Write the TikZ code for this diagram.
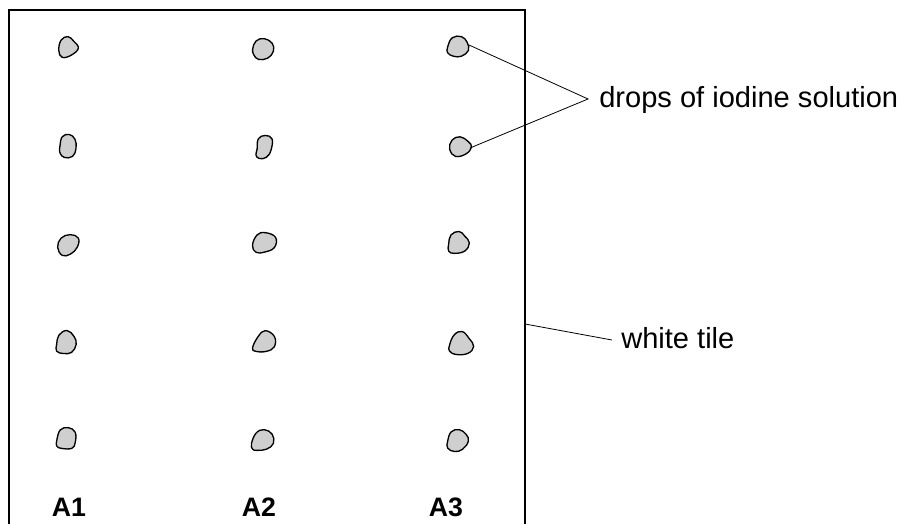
\documentclass[tikz,border=0pt]{standalone}
\usepackage{fontspec}
\setmainfont{Liberation Sans}
\begin{document}
\begin{tikzpicture}[x=0.75pt,y=-0.75pt,
  tile/.style={line width=1.5pt,line cap=rect},
  drop/.style={draw=black,fill=black!19,line width=1pt,scale=1.15},
  leader/.style={line width=0.6pt},
  lab/.style={font=\fontsize{21.8}{26}\selectfont,inner sep=0pt,anchor=base west},
  colab/.style={font=\fontsize{20}{24}\selectfont\bfseries,inner sep=0pt,anchor=base}]
\useasboundingbox (0,0) rectangle (902,524);
% tile
\draw[tile] (9,530) -- (9,10) -- (525,10) -- (525,530);
% drops: row 1
\draw[shift={(68,47)},drop] plot[smooth cycle,tension=0.7] coordinates {(-8,3) (-6,-6) (0,-9) (5,-5) (9,1) (3,7) (-5,9)};
\draw[shift={(263,49)},drop] plot[smooth cycle,tension=0.7] coordinates {(-9,0) (-6,-7) (1,-9) (8,-5) (9,2) (4,8) (-4,9) (-8,5)};
\draw[shift={(458,47)},drop] plot[smooth cycle,tension=0.7] coordinates {(-9,0) (-5,-8) (3,-9) (8,-4) (9,3) (3,8) (-4,8) (-9,5)};
% row 2
\draw[shift={(68,146)},drop] plot[smooth cycle,tension=0.7] coordinates {(-7,0) (-5,-8) (1,-10) (6,-6) (7,2) (4,9) (-3,10) (-7,6)};
\draw[shift={(264,147)},drop] plot[smooth cycle,tension=0.7] coordinates {(-6,2) (-5,-7) (1,-10) (7,-7) (6,3) (2,9) (-4,10) (-7,7)};
\draw[shift={(460,146)},drop] plot[smooth cycle,tension=0.7] coordinates {(-9,3) (-7,-5) (0,-8) (7,-4) (10,1) (5,7) (-4,9)};
% row 3
\draw[shift={(68,245)},drop] plot[smooth cycle,tension=0.7] coordinates {(-9,2) (-6,-6) (2,-9) (9,-6) (8,2) (2,8) (-5,9)};
\draw[shift={(264,243)},drop] plot[smooth cycle,tension=0.7] coordinates {(-10,2) (-6,-7) (1,-9) (10,-5) (9,4) (0,8) (-7,8)};
\draw[shift={(459,243)},drop] plot[smooth cycle,tension=0.7] coordinates {(-9,1) (-7,-7) (0,-10) (5,-6) (9,0) (5,7) (-4,9) (-9,7)};
% row 4
\draw[shift={(67,342)},drop] plot[smooth cycle,tension=0.7] coordinates {(-9,2) (-7,-6) (0,-10) (6,-5) (8,2) (4,9) (-3,10) (-9,8)};
\draw[shift={(264,341)},drop] plot[smooth cycle,tension=0.7] coordinates {(-10,6) (-5,-4) (1,-9) (9,-4) (9,5) (2,9) (-7,9)};
\draw[shift={(461,343)},drop] plot[smooth cycle,tension=0.7] coordinates {(-10,2) (-6,-7) (1,-10) (7,-4) (11,3) (6,9) (-4,10) (-10,7)};
% row 5
\draw[shift={(66,438)},drop] plot[smooth cycle,tension=0.7] coordinates {(-8,2) (-5,-7) (2,-9) (8,-5) (8,4) (5,9) (-4,9) (-8,7)};
\draw[shift={(263,440)},drop] plot[smooth cycle,tension=0.7] coordinates {(-10,3) (-6,-6) (1,-9) (8,-5) (9,3) (3,8) (-5,9) (-9,8)};
\draw[shift={(458,440)},drop] plot[smooth cycle,tension=0.7] coordinates {(-9,1) (-6,-7) (1,-9) (7,-5) (9,1) (4,8) (-3,10) (-9,7)};
% leader end points
\coordinate (d13) at (469,45);
\coordinate (d23) at (470,148);
\coordinate (apex) at (588,99);
\coordinate (tileedge) at (525,324);
\coordinate (tileend) at (612,340);
% labels
\node[lab] (droplab) at (599,108) {drops of iodine solution};
\node[lab] (tilelab) at (621,348) {white tile};
\node[colab] (a1) at (69,516) {A1};
\node[colab] (a2) at (259,516) {A2};
\node[colab] (a3) at (446,516) {A3};
% leaders
\draw[leader] (d13) -- (apex) -- (d23);
\draw[leader] (tileedge) -- (tileend);
\end{tikzpicture}
\end{document}
